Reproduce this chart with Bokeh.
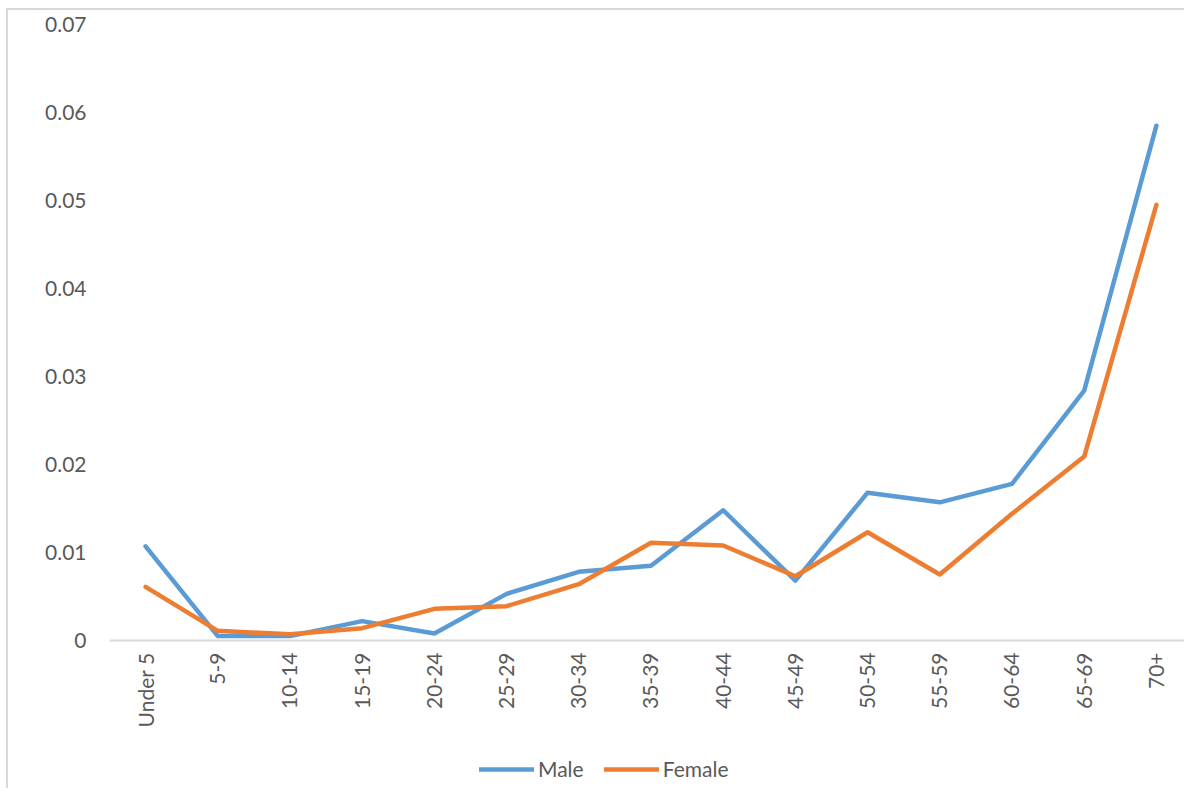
import math
from bokeh.plotting import figure
from bokeh.models import Range1d, FixedTicker, Legend, LegendItem, Span, ColumnDataSource
from bokeh.core.properties import value
from bokeh.embed import file_html
from bokeh.resources import INLINE

categories = ["Under 5", "5-9", "10-14", "15-19", "20-24", "25-29", "30-34", "35-39",
              "40-44", "45-49", "50-54", "55-59", "60-64", "65-69", "70+"]
male = [0.0107, 0.0005, 0.0005, 0.0022, 0.0008, 0.0053, 0.0078, 0.0085,
        0.0148, 0.0068, 0.0168, 0.0157, 0.0178, 0.0284, 0.0585]
female = [0.0061, 0.0011, 0.0007, 0.0014, 0.0036, 0.0039, 0.0064, 0.0111,
          0.0108, 0.0073, 0.0123, 0.0075, 0.0144, 0.0209, 0.0495]
y_ticks = [0, 0.01, 0.02, 0.03, 0.04, 0.05, 0.06, 0.07]
y_labels = ["0", "0.01", "0.02", "0.03", "0.04", "0.05", "0.06", "0.07"]

FONT = "Lato"
TXT = "#595959"

x = list(range(len(categories)))

p = figure(width=1178, height=780, output_backend="svg", toolbar_location=None,
           x_range=Range1d(-0.5, 14.417), y_range=Range1d(-0.0170455, 0.07),
           min_border_left=101, min_border_top=14, min_border_right=0, min_border_bottom=0)
p.styles = {"border-left": "2px solid #d9d9d9", "border-top": "2px solid #d9d9d9",
            "margin-top": "8px", "margin-left": "6px"}
p.outline_line_color = None
p.grid.visible = False
p.background_fill_color = "white"
p.border_fill_color = "white"
p.xaxis.visible = False

# category axis line and labels
p.add_layout(Span(location=0, dimension="width", line_color="#d9d9d9", line_width=2))
cat_src = ColumnDataSource(dict(x=x, y=[0] * len(x), label=categories))
p.text(x="x", y="y", text="label", source=cat_src, angle=math.pi / 2,
       text_align="right", text_baseline="middle", y_offset=12,
       text_font=value(FONT), text_font_size="21px", text_color=TXT)

r_m = p.line(x, male, line_color="#5B9BD5", line_width=4.5, line_join="round", line_cap="round")
r_f = p.line(x, female, line_color="#ED7D31", line_width=4.5, line_join="round", line_cap="round")

ya = p.yaxis[0]
ya.ticker = FixedTicker(ticks=y_ticks)
ya.major_label_overrides = {t: l for t, l in zip(y_ticks, y_labels)}
ya.axis_line_color = None
ya.major_tick_line_color = None
ya.minor_tick_line_color = None
ya.major_tick_out = 0
ya.major_tick_in = 0
ya.major_label_standoff = 23
ya.major_label_text_font = FONT
ya.major_label_text_font_size = "21px"
ya.major_label_text_color = TXT

legend = Legend(items=[LegendItem(label="Male", renderers=[r_m]),
                       LegendItem(label="Female", renderers=[r_f])],
                orientation="horizontal", location=(370, 9),
                label_text_font=FONT, label_text_font_size="21px", label_text_color=TXT,
                glyph_width=55, glyph_height=20, spacing=20, label_standoff=4,
                border_line_color=None, background_fill_alpha=0, margin=0, padding=6)
p.add_layout(legend, "center")

open("out.html", "w").write(file_html(p, INLINE))
